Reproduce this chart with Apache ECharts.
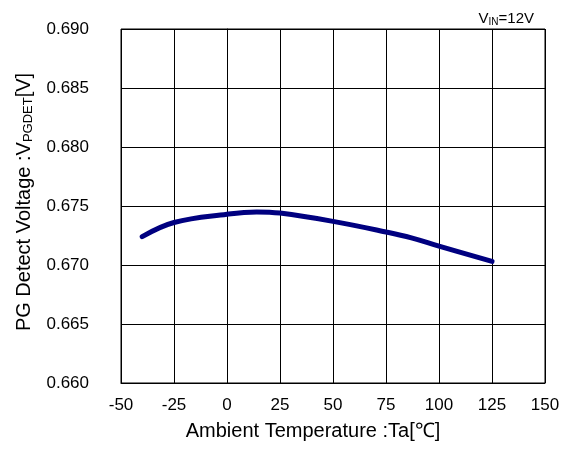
<!DOCTYPE html>
<html><head><meta charset="utf-8">
<script src="https://cdn.jsdelivr.net/npm/echarts@6/dist/echarts.min.js"></script>
<style>html,body{margin:0;padding:0;background:#fff}#c{width:565px;height:450px}</style>
</head><body><div id="c"></div>
<script>
const temps = [-40, -25, 0, 14, 25, 50, 75, 87, 100, 125];
const volts = [0.6724, 0.6736, 0.6743, 0.6745, 0.6744, 0.6737, 0.6728, 0.6723, 0.6716, 0.6703];
const xTicks = [-50, -25, 0, 25, 50, 75, 100, 125, 150];
const yTicks = [0.660, 0.665, 0.670, 0.675, 0.680, 0.685, 0.690];
const FONT = '"Liberation Sans", Arial, sans-serif';
const chart = echarts.init(document.getElementById('c'));
chart.setOption({
  animation: false,
  title: {
    text: '{a|V}{s|IN}{a|=12V}',
    right: 26, top: 6,
    textStyle: { fontWeight: 'normal', rich: {
      a: { fontFamily: FONT, fontSize: 15, fontWeight: 'normal', color: '#000' },
      s: { fontFamily: FONT, fontSize: 10, fontWeight: 'normal', color: '#000', padding: [6,0,0,0] }
    }}
  },
  grid: { left: 121, right: 20, top: 29, bottom: 67, show: true, borderColor: '#000', borderWidth: 1 },
  xAxis: {
    type: 'value', min: xTicks[0], max: xTicks[xTicks.length-1], interval: 25,
    name: 'Ambient Temperature :Ta[℃]', nameLocation: 'middle', nameGap: 38,
    nameTextStyle: { fontFamily: FONT, fontSize: 20, color: '#000', padding: [0, 40, 0, 0] },
    axisLine: { show: true, lineStyle: { color: '#000' } }, axisTick: { show: false },
    axisLabel: { fontFamily: FONT, fontSize: 17, color: '#000', margin: 14 },
    splitLine: { show: true, lineStyle: { color: '#000', width: 1 } }
  },
  yAxis: {
    type: 'value', min: yTicks[0], max: yTicks[yTicks.length-1], interval: 0.005,
    name: '{a|PG Detect Voltage :V}{s|PGDET}{a|[V]}', nameLocation: 'middle', nameGap: 86,
    nameTextStyle: { padding: [0, 0, 0, 8], rich: {
      a: { fontFamily: FONT, fontSize: 20, color: '#000' },
      s: { fontFamily: FONT, fontSize: 13, color: '#000', padding: [9,0,0,0] }
    }},
    axisLine: { show: true, lineStyle: { color: '#000' } }, axisTick: { show: false },
    axisLabel: { fontFamily: FONT, fontSize: 17, color: '#000', margin: 32, formatter: v => v.toFixed(3) },
    splitLine: { show: true, lineStyle: { color: '#000', width: 1 } }
  },
  series: [{
    type: 'line', data: temps.map((t, i) => [t, volts[i]]), smooth: 0.4,
    symbol: 'none', lineStyle: { color: '#000080', width: 5, cap: 'round' }
  }]
});
</script></body></html>
